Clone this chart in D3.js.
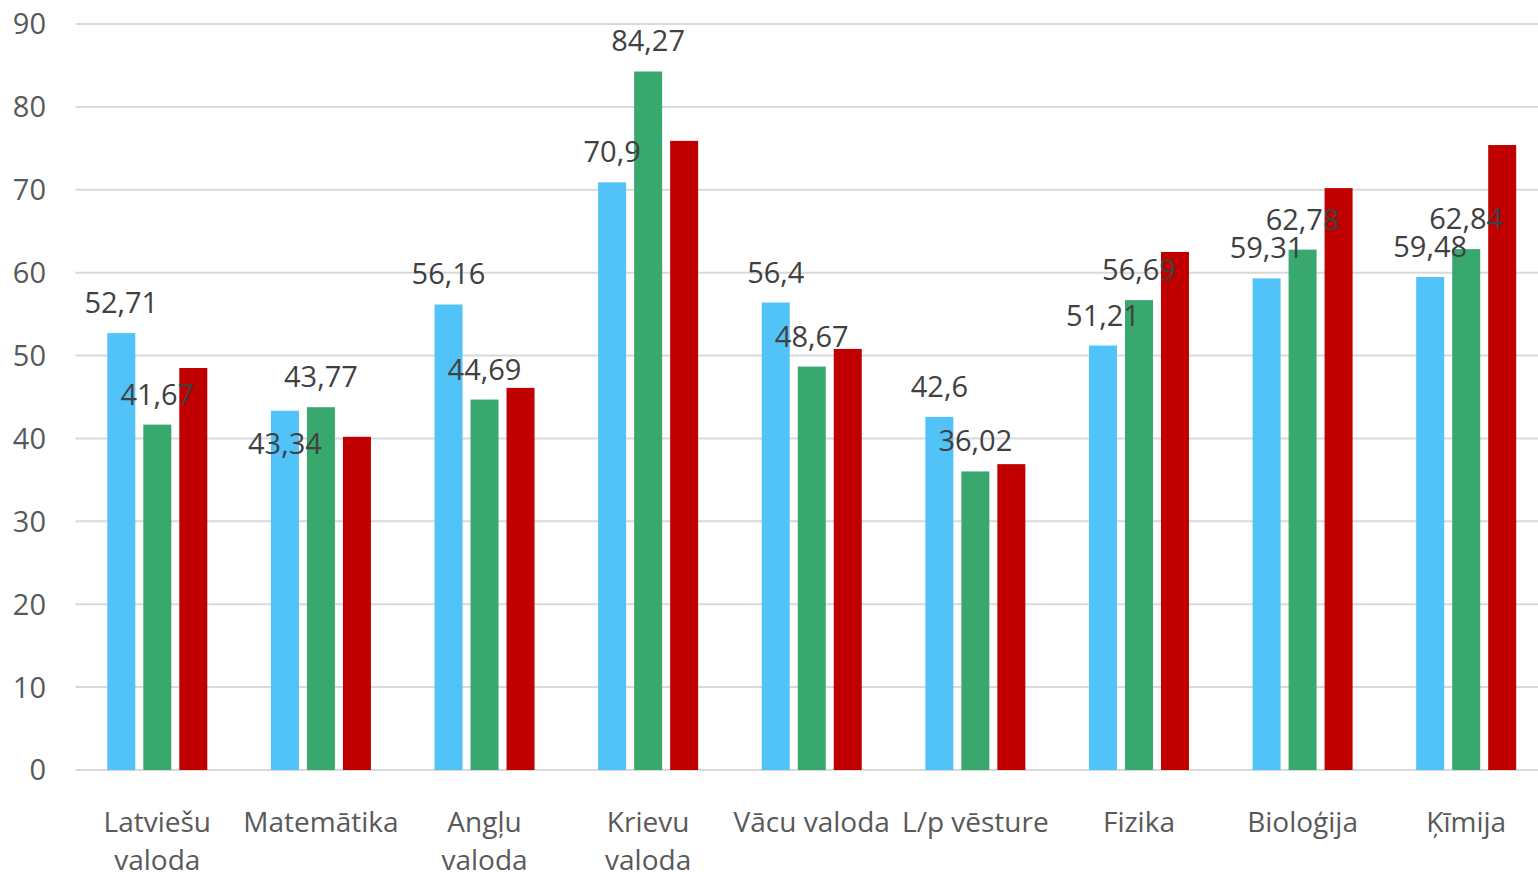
<!DOCTYPE html>
<html lang="lv">
<head>
<meta charset="UTF-8">
<title>Vidējie rezultāti</title>
<style>
  html, body { margin: 0; padding: 0; background: #fff; }
  svg { display: block; font-family: "Open Sans", "Noto Sans", sans-serif; }
</style>
</head>
<body>
<script src="https://d3js.org/d3.v7.min.js"></script>
<script>
  const categories = ['Latviešu valoda', 'Matemātika', 'Angļu valoda', 'Krievu valoda', 'Vācu valoda',
    'L/p vēsture', 'Fizika', 'Bioloģija', 'Ķīmija']
  const seriesBlue = [52.71, 43.34, 56.16, 70.9, 56.4, 42.6, 51.21, 59.31, 59.48]
  const seriesGreen = [41.67, 43.77, 44.69, 84.27, 48.67, 36.02, 56.69, 62.78, 62.84]
  const seriesRed = [48.5, 40.2, 46.1, 75.9, 50.8, 36.9, 62.5, 70.2, 75.4]
  const yTicks = [0, 10, 20, 30, 40, 50, 60, 70, 80, 90]

  const series = [
    { name: 'blue', values: seriesBlue, color: '#52c3f8', labels: true },
    { name: 'green', values: seriesGreen, color: '#38a86f', labels: true },
    { name: 'red', values: seriesRed, color: '#c00000', labels: false }
  ]

  const width = 1538
  const height = 872
  const plotLeft = 75.5
  const plotRight = 1548
  const plotTop = 24
  const plotBottom = 770

  const svg = d3.select('body').append('svg')
    .attr('width', width)
    .attr('height', height)

  const x0 = d3.scaleBand()
    .domain(categories)
    .range([plotLeft, plotRight])

  const x1 = d3.scaleBand()
    .domain(d3.range(series.length))
    .range([0, 100])
    .paddingInner(8 / 36)

  const y = d3.scaleLinear()
    .domain([0, 90])
    .range([plotBottom, plotTop])

  // gridlines
  svg.append('g')
    .selectAll('line')
    .data(yTicks)
    .join('line')
    .attr('x1', plotLeft)
    .attr('x2', width)
    .attr('y1', d => y(d))
    .attr('y2', d => y(d))
    .attr('stroke', '#d9d9d9')
    .attr('stroke-width', 2)

  // y tick labels
  svg.append('g')
    .selectAll('text')
    .data(yTicks)
    .join('text')
    .attr('x', 46)
    .attr('y', d => y(d))
    .attr('dy', '0.36em')
    .attr('text-anchor', 'end')
    .attr('font-size', 29)
    .attr('fill', '#595959')
    .text(d => d)

  const groupOffset = (x0.bandwidth() - 100) / 2

  // bars
  const groups = svg.append('g')
    .selectAll('g')
    .data(series)
    .join('g')
    .attr('fill', d => d.color)

  groups.selectAll('rect')
    .data((s, si) => s.values.map((v, i) => ({ v, i, si })))
    .join('rect')
    .attr('x', d => x0(categories[d.i]) + groupOffset + x1(d.si))
    .attr('y', d => y(d.v))
    .attr('width', x1.bandwidth())
    .attr('height', d => y(0) - y(d.v))

  // data labels (Matemātika blue label sits inside the bar)
  const fmt = v => String(v).replace('.', ',')
  const labelBelow = (si, i) => si === 0 && categories[i] === 'Matemātika'

  series.forEach((s, si) => {
    if (!s.labels) return
    svg.append('g')
      .selectAll('text')
      .data(s.values)
      .join('text')
      .attr('x', (v, i) => x0(categories[i]) + groupOffset + x1(si) + x1.bandwidth() / 2)
      .attr('y', (v, i) => labelBelow(si, i) ? y(v) + 43 : y(v) - 20)
      .attr('text-anchor', 'middle')
      .attr('font-size', 29)
      .attr('fill', '#404040')
      .text(fmt)
  })

  // category labels, wrapped when wider than the band
  const catG = svg.append('g')
    .selectAll('text')
    .data(categories)
    .join('text')
    .attr('x', d => x0(d) + x0.bandwidth() / 2)
    .attr('y', 832)
    .attr('text-anchor', 'middle')
    .attr('font-size', 28)
    .attr('fill', '#595959')

  catG.each(function (d) {
    const el = d3.select(this)
    const cx = +el.attr('x')
    const words = d.split(' ')
    let lines = [d]
    el.text(d)
    if (this.getComputedTextLength() > 160 && words.length > 1) {
      lines = words
    }
    el.text(null)
    lines.forEach((line, k) => {
      el.append('tspan')
        .attr('x', cx)
        .attr('dy', k === 0 ? 0 : 38)
        .text(line)
    })
  })
</script>
</body>
</html>
